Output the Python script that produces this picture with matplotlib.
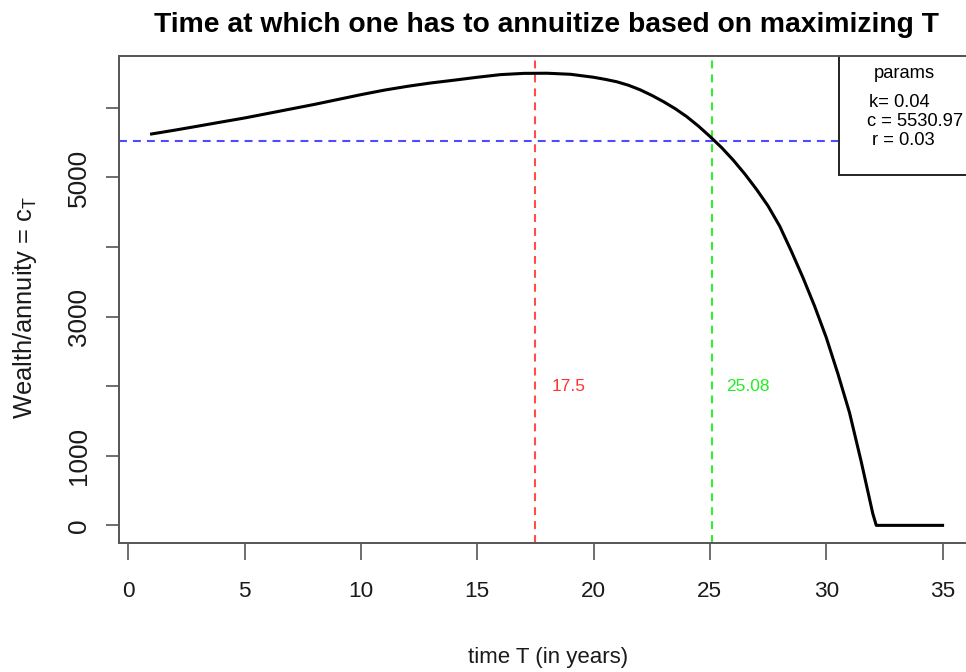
import matplotlib
matplotlib.use("Agg")
import matplotlib.pyplot as plt

plt.rcParams['font.family'] = ['Liberation Sans', 'DejaVu Sans']
plt.rcParams['mathtext.fontset'] = 'custom'
plt.rcParams['mathtext.rm'] = 'Liberation Sans'
plt.rcParams['mathtext.it'] = 'Liberation Sans'

# wealth / annuity value by annuitization year T
years = [1, 2, 3, 4, 5, 6, 7, 8, 9, 10, 11, 12, 13, 14, 15, 16, 17, 18,
         19, 20, 20.5, 21, 21.5, 22, 22.5, 23, 23.5, 24, 24.5, 25, 25.5,
         26, 26.5, 27, 27.5, 28, 28.5, 29, 29.5, 30, 30.5, 31, 31.5, 32,
         32.15, 33, 34, 35]
wealth = [5625, 5680, 5738, 5797, 5855, 5920, 5985, 6050, 6120, 6190, 6255,
          6310, 6358, 6398, 6440, 6478, 6496, 6498, 6483, 6440, 6410, 6375,
          6325, 6260, 6180, 6090, 5990, 5875, 5740, 5590, 5430, 5250, 5050,
          4830, 4590, 4300, 3940, 3560, 3150, 2700, 2180, 1620, 920, 170,
          0, 0, 0, 0]

k = 0.04
c = 5530.97
r = 0.03
t_max = 17.5
t_cross = 25.08

fig = plt.figure(figsize=(9.66, 6.72), dpi=100)
ax = fig.add_axes([0.1235, 0.1915, 0.885, 0.7251])

dash = (0, (3.8, 2.9))
ax.plot(years, wealth, color='black', lw=2.2, zorder=3)
ax.axhline(c, color='#4d4dff', ls=dash, lw=1.5)
ax.axvline(t_max, color='#ff4d4d', ls=dash, lw=1.5)
ax.axvline(t_cross, color='#33ee33', ls=dash, lw=1.5)

ax.text(t_max + 0.69, 2000, str(t_max), color='#ff3333', fontsize=12.5,
        va='center', ha='left')
ax.text(t_cross + 0.63, 2000, str(t_cross), color='#22ee22', fontsize=12.5,
        va='center', ha='left')

ax.set_xlim(-0.387, 36.36)
ax.set_ylim(-258, 6745)

ax.set_xticks([0, 5, 10, 15, 20, 25, 30, 35])
yt = [0, 1000, 2000, 3000, 4000, 5000, 6000]
ax.set_yticks(yt)
ax.set_yticklabels([str(v) if v in (0, 1000, 3000, 5000) else '' for v in yt],
                   rotation=90, va='center')
ax.tick_params(axis='x', labelsize=16.2, length=12, width=1.2, color='#555555',
               labelcolor='#1a1a1a', pad=15)
ax.tick_params(axis='y', labelsize=18.8, length=9.4, width=1.2, color='#555555',
               labelcolor='#1a1a1a', pad=11)
for s in ax.spines.values():
    s.set_linewidth(1.4)
    s.set_color('#555555')

fig.text(546 / 966, 1 - 25 / 672,
         'Time at which one has to annuitize based on maximizing T',
         fontsize=20.3, fontweight='bold', ha='center', va='center')
fig.text(548 / 966, 1 - 657 / 672, 'time T (in years)', fontsize=16,
         ha='center', va='center', color='#1a1a1a')
fig.text(25 / 966, 1 - 308 / 672, 'Wealth/annuity = $c_T$', fontsize=18.4,
         rotation=90, ha='center', va='center', color='#1a1a1a')


def px(x, y):
    # pixel position -> axes fraction
    return (x - 119.3) / 855.1, (543.3 - y) / 487.3


# params box in the upper right (white fill hides the dashed line)
bx, by = px(839, 175)
box = plt.Rectangle((bx, by), 0.3, 1 - by, transform=ax.transAxes,
                    fc='white', lw=1.4, ec='#222222', clip_on=False, zorder=2.5)
ax.add_patch(box)
ax.text(*px(905, 73), 'params', transform=ax.transAxes, fontsize=13.2,
        ha='center', va='center', zorder=4)
ax.text(*px(869, 102), 'k= %.2f' % k, transform=ax.transAxes, fontsize=13.2,
        ha='left', va='center', zorder=4)
ax.text(*px(867, 121), 'c = %.2f' % c, transform=ax.transAxes, fontsize=13.2,
        ha='left', va='center', zorder=4)
ax.text(*px(872, 140), 'r = %.2f' % r, transform=ax.transAxes, fontsize=13.2,
        ha='left', va='center', zorder=4)

fig.savefig('out.png', dpi=100)
